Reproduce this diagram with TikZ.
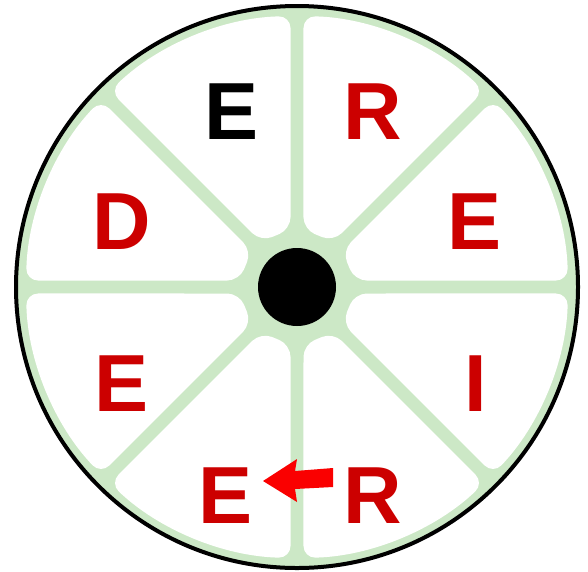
\documentclass[tikz,border=0pt]{standalone}
\usepackage{fontspec}
\setmainfont{Liberation Sans}
\usetikzlibrary{calc}
\definecolor{spokegreen}{RGB}{204,232,198}
\definecolor{letterred}{RGB}{204,0,0}
\definecolor{arrowred}{RGB}{250,0,0}
\begin{document}
\begin{tikzpicture}[x=1pt,y=-1pt,
  letter/.style={font=\fontsize{81}{81}\selectfont\bfseries, text=letterred, anchor=base, inner sep=0pt},
  sector/.style={fill=white, rounded corners=12pt}]
\useasboundingbox (0,0) rectangle (588,571);
\fill[white] (0,0) rectangle (588,571);
\coordinate (c) at (297,287);
\fill[spokegreen] (c) circle (280);
\foreach \k in {0,...,7}{
  \begin{scope}[shift={(c)}, rotate=45*\k]
    \path[sector] (6.43:58) -- (1.37:271) arc[start angle=1.37, end angle=43.63, radius=271] -- (38.57:58) -- cycle;
  \end{scope}
}
\node[circle, fill=black, minimum size=78pt, inner sep=0pt] (hub) at (c) {};
\draw[line width=4pt] (c) circle (281);
\node[letter, text=black] (e1) at (232,139) {E};
\node[letter] (r1) at (373,139) {R};
\node[letter] (e2) at (475,249) {E};
\node[letter] (d) at (122,249) {D};
\node[letter] (e3) at (122,411) {E};
\node[letter] (i) at (476,411) {I};
\node[letter] (e4) at (226,523) {E};
\node[letter] (r2) at (373,523) {R};
\fill[arrowred] (263,481) -- (297,459) -- (295,471) -- (333,468) -- (333,487) -- (295,489) -- (297,502) -- cycle;
\end{tikzpicture}
\end{document}
